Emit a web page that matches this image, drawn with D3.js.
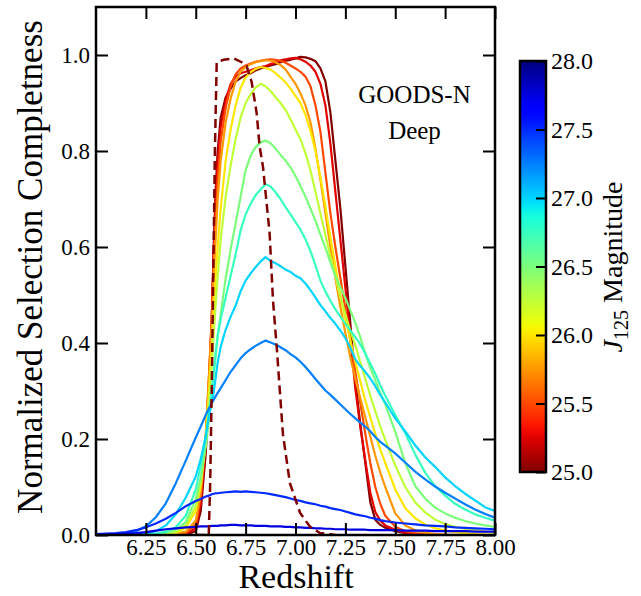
<!DOCTYPE html>
<html><head><meta charset="utf-8">
<script src="https://cdn.jsdelivr.net/npm/d3@7"></script>
<style>
body{margin:0;background:#fff}
svg{display:block}
svg text{font-family:'Liberation Serif','Times New Roman',serif !important;fill:#000}
</style>
</head><body>
<svg id="c" width="641" height="596"></svg>
<script>
// ---------------- data ----------------
const redshift = [6.00,6.05,6.10,6.15,6.20,6.25,6.30,6.35,6.40,6.45,6.50,6.525,6.55,6.565,6.58,6.59,6.60,6.61,6.625,
  6.65,6.675,6.70,6.725,6.75,6.775,6.80,6.825,6.85,6.875,6.90,6.925,6.95,6.975,7.00,7.025,7.05,7.075,7.10,7.125,7.15,
  7.175,7.20,7.225,7.25,7.275,7.30,7.325,7.35,7.375,7.40,7.425,7.45,7.50,7.55,7.60,7.65,7.70,7.75,7.80,7.85,7.90,7.95,8.00];

const magnitudes = [25.0,25.25,25.5,25.75,26.0,26.25,26.5,26.75,27.0,27.25,27.5,27.75];

const comp_25_00 = [0,0,0,0,0,0,0,0,0,0.001,0.008,0.05,0.17,0.29,0.44,0.6,0.72,0.8,0.87,
  0.912,0.93,0.945,0.952,0.958,0.962,0.968,0.972,0.975,0.978,0.981,0.985,0.988,0.99,0.993,0.996,0.995,0.992,0.987,0.972,0.945,
  0.88,0.78,0.68,0.56,0.44,0.32,0.23,0.15,0.068,0.032,0.021,0.015,0.008,0.004,0.002,0.001,0,0,0,0,0,0,0];
const comp_25_25 = [0,0,0,0,0,0,0,0,0,0.002,0.014,0.065,0.19,0.31,0.45,0.59,0.7,0.78,0.85,
  0.905,0.94,0.955,0.962,0.965,0.968,0.972,0.975,0.977,0.981,0.985,0.989,0.991,0.993,0.994,0.991,0.986,0.978,0.965,0.94,0.895,
  0.815,0.715,0.615,0.515,0.41,0.305,0.225,0.155,0.088,0.048,0.03,0.02,0.011,0.005,0.002,0.001,0,0,0,0,0,0,0];
const comp_25_50 = [0,0,0,0,0,0,0,0,0.001,0.004,0.022,0.08,0.2,0.32,0.45,0.57,0.66,0.74,0.82,
  0.89,0.935,0.96,0.972,0.978,0.982,0.986,0.988,0.99,0.991,0.99,0.988,0.984,0.978,0.972,0.965,0.955,0.935,0.895,0.84,0.755,
  0.67,0.6,0.535,0.47,0.405,0.34,0.275,0.21,0.15,0.1,0.065,0.04,0.017,0.008,0.004,0.002,0.001,0,0,0,0,0,0];
const comp_25_75 = [0,0,0,0,0,0,0,0,0.002,0.007,0.03,0.09,0.21,0.32,0.44,0.54,0.62,0.7,0.78,
  0.86,0.91,0.945,0.965,0.975,0.981,0.985,0.987,0.989,0.988,0.985,0.979,0.97,0.955,0.94,0.92,0.895,0.86,0.805,0.74,0.67,
  0.6,0.535,0.475,0.42,0.37,0.325,0.285,0.245,0.205,0.165,0.13,0.1,0.045,0.02,0.01,0.005,0.002,0.001,0,0,0,0,0];
const comp_26_00 = [0,0,0,0,0,0,0,0.001,0.004,0.015,0.05,0.105,0.2,0.29,0.39,0.47,0.54,0.6,0.68,
  0.78,0.845,0.895,0.932,0.953,0.964,0.971,0.975,0.973,0.97,0.962,0.953,0.943,0.93,0.915,0.9,0.875,0.842,0.8,0.745,0.685,
  0.62,0.56,0.5,0.45,0.405,0.36,0.32,0.28,0.245,0.21,0.178,0.15,0.095,0.056,0.035,0.022,0.014,0.009,0.006,0.004,0.002,0.001,0.001];
const comp_26_25 = [0,0,0,0,0,0,0.001,0.002,0.006,0.02,0.06,0.11,0.19,0.27,0.35,0.42,0.48,0.54,0.615,
  0.705,0.77,0.825,0.87,0.9,0.918,0.932,0.94,0.935,0.925,0.912,0.9,0.886,0.866,0.845,0.825,0.795,0.76,0.715,0.67,0.625,
  0.58,0.54,0.495,0.46,0.425,0.395,0.36,0.325,0.29,0.258,0.226,0.198,0.145,0.1,0.068,0.047,0.032,0.023,0.017,0.013,0.01,0.007,0.005];
const comp_26_50 = [0,0,0,0,0,0.001,0.002,0.004,0.011,0.027,0.075,0.12,0.185,0.235,0.29,0.335,0.375,0.415,0.46,
  0.535,0.595,0.65,0.705,0.76,0.79,0.808,0.818,0.822,0.816,0.805,0.792,0.78,0.766,0.748,0.727,0.705,0.68,0.655,0.626,0.598,
  0.568,0.54,0.516,0.494,0.468,0.442,0.412,0.378,0.348,0.322,0.296,0.272,0.215,0.15,0.102,0.076,0.057,0.045,0.036,0.029,0.024,0.02,0.017];
const comp_26_75 = [0,0,0,0,0,0.001,0.003,0.007,0.016,0.04,0.095,0.145,0.205,0.25,0.3,0.34,0.38,0.415,0.45,
  0.495,0.54,0.585,0.635,0.668,0.69,0.708,0.72,0.731,0.726,0.714,0.7,0.683,0.668,0.652,0.636,0.616,0.592,0.562,0.53,0.507,
  0.488,0.47,0.455,0.44,0.426,0.412,0.397,0.378,0.357,0.336,0.312,0.29,0.25,0.212,0.168,0.13,0.102,0.082,0.065,0.053,0.043,0.036,0.03];
const comp_27_00 = [0,0,0,0,0.001,0.003,0.008,0.02,0.043,0.078,0.122,0.158,0.205,0.245,0.275,0.298,0.328,0.36,0.392,
  0.428,0.455,0.478,0.508,0.53,0.545,0.558,0.57,0.579,0.571,0.566,0.56,0.553,0.548,0.54,0.535,0.524,0.51,0.495,0.479,0.466,
  0.452,0.44,0.426,0.41,0.39,0.366,0.352,0.34,0.326,0.31,0.292,0.276,0.243,0.216,0.187,0.162,0.142,0.12,0.102,0.086,0.072,0.058,0.05];
const comp_27_25 = [0.001,0.001,0.002,0.004,0.008,0.018,0.037,0.066,0.108,0.155,0.203,0.226,0.25,0.263,0.274,0.282,0.289,0.296,0.306,
  0.323,0.34,0.354,0.368,0.379,0.387,0.394,0.4,0.405,0.401,0.397,0.391,0.385,0.377,0.37,0.361,0.35,0.338,0.325,0.313,0.301,
  0.292,0.282,0.272,0.262,0.252,0.243,0.234,0.226,0.216,0.204,0.194,0.186,0.17,0.151,0.132,0.116,0.101,0.088,0.076,0.064,0.053,0.044,0.036];
const comp_27_50 = [0.002,0.003,0.004,0.006,0.01,0.016,0.024,0.034,0.046,0.06,0.071,0.075,0.08,0.082,0.085,0.086,0.087,0.087,0.088,
  0.089,0.09,0.091,0.09,0.091,0.09,0.089,0.088,0.087,0.085,0.083,0.081,0.079,0.076,0.073,0.071,0.068,0.066,0.064,0.061,0.059,
  0.056,0.054,0.052,0.049,0.046,0.043,0.041,0.039,0.036,0.034,0.031,0.029,0.026,0.024,0.022,0.02,0.019,0.018,0.016,0.015,0.014,0.013,0.012];
const comp_27_75 = [0.001,0.001,0.002,0.003,0.004,0.006,0.009,0.012,0.014,0.016,0.017,0.018,0.018,0.018,0.019,0.019,0.019,0.019,0.02,
  0.02,0.021,0.021,0.02,0.02,0.02,0.019,0.019,0.019,0.018,0.018,0.018,0.017,0.017,0.016,0.016,0.015,0.015,0.014,0.014,0.013,
  0.013,0.012,0.012,0.012,0.011,0.011,0.011,0.011,0.01,0.01,0.01,0.01,0.01,0.009,0.009,0.009,0.008,0.008,0.008,0.008,0.007,0.007,0.007];

const dashedZ = [6.50,6.565,6.572,6.58,6.588,6.596,6.605,6.64,6.69,6.73,6.755,6.78,6.805,6.82,6.837,6.87,6.887,6.907,6.937,6.972,7.023,7.073,7.123,7.20];
const dashedC = [0,0,0.1,0.3,0.55,0.8,0.985,0.99,0.993,0.985,0.977,0.944,0.88,0.81,0.767,0.63,0.49,0.385,0.21,0.108,0.046,0.017,0.004,0];

const xTicks = [6.25,6.50,6.75,7.00,7.25,7.50,7.75,8.00];
const yTicks = [0.0,0.2,0.4,0.6,0.8,1.0];
const cbTicks = [25.0,25.5,26.0,26.5,27.0,27.5,28.0];

const compSeries = [comp_25_00,comp_25_25,comp_25_50,comp_25_75,comp_26_00,comp_26_25,
  comp_26_50,comp_26_75,comp_27_00,comp_27_25,comp_27_50,comp_27_75];

// ---------------- colour map (jet) ----------------
const jr = d3.scaleLinear().domain([0,0.35,0.66,0.89,1]).range([0,0,1,1,0.5]).clamp(true);
const jg = d3.scaleLinear().domain([0,0.125,0.375,0.64,0.91,1]).range([0,0,1,1,0,0]).clamp(true);
const jb = d3.scaleLinear().domain([0,0.11,0.34,0.65,1]).range([0.5,1,1,0,0]).clamp(true);
const jet = t => d3.rgb(Math.round(jr(t)*255),Math.round(jg(t)*255),Math.round(jb(t)*255)).formatHex();
const magColor = m => jet((28-m)/3);

// ---------------- layout ----------------
const SERIF = "'Liberation Serif','Times New Roman',serif";
const svg = d3.select('#c');
const X0=96, X1=495, Y0=535, Y1=7;
const x = d3.scaleLinear().domain([6,8]).range([X0,X1]);
const y = d3.scaleLinear().domain([0,1.1]).range([Y0,Y1]);

svg.append('defs').append('clipPath').attr('id','clip')
  .append('rect').attr('x',X0).attr('y',Y1).attr('width',X1-X0).attr('height',Y0-Y1);

const line = d3.line().x(d=>x(d[0])).y(d=>y(d[1]));
const gLines = svg.append('g').attr('clip-path','url(#clip)');

compSeries.forEach((vals,i)=>{
  gLines.append('path')
    .datum(redshift.map((z,j)=>[z,vals[j]]))
    .attr('d',line).attr('fill','none')
    .attr('stroke',magColor(magnitudes[i]))
    .attr('stroke-width',2.2).attr('stroke-linejoin','round');
});
gLines.append('path')
  .datum(dashedZ.map((z,j)=>[z,dashedC[j]]))
  .attr('d',line).attr('fill','none')
  .attr('stroke','#800000').attr('stroke-width',2.5)
  .attr('stroke-dasharray','9,5');

// axes
const fmt2 = d3.format('.2f'), fmt1 = d3.format('.1f');
function styleAxis(g,fs){
  g.attr('font-family',null).attr('font-size',null);
  g.select('.domain').remove();
  g.selectAll('.tick line').attr('stroke','#000').attr('stroke-width',2);
  g.selectAll('.tick text').style('font-size',fs+'px').style('font-family',SERIF).attr('fill','#000');
}
svg.append('g').attr('transform',`translate(0,${Y0})`)
  .call(d3.axisBottom(x).tickValues(xTicks).tickSize(-12).tickPadding(4).tickFormat(fmt2))
  .call(g=>styleAxis(g,23));
svg.append('g').attr('transform',`translate(0,${Y1})`)
  .call(d3.axisTop(x).tickValues(xTicks).tickSize(-12).tickFormat(''))
  .call(g=>styleAxis(g,23));
svg.append('g').attr('transform',`translate(${X0},0)`)
  .call(d3.axisLeft(y).tickValues(yTicks).tickSize(-12).tickPadding(6).tickFormat(fmt1))
  .call(g=>styleAxis(g,23));
svg.append('g').attr('transform',`translate(${X1},0)`)
  .call(d3.axisRight(y).tickValues(yTicks).tickSize(-12).tickFormat(''))
  .call(g=>styleAxis(g,23));

svg.append('rect').attr('x',X0).attr('y',Y1).attr('width',X1-X0).attr('height',Y0-Y1)
  .attr('fill','none').attr('stroke','#000').attr('stroke-width',2.5);

// titles
svg.append('text').attr('x',296).attr('y',588).attr('text-anchor','middle')
  .style('font-size','34px').text('Redshift');
svg.append('text').attr('transform','translate(42,267) rotate(-90)').attr('text-anchor','middle')
  .style('font-size','35px').text('Normalized Selection Completness');

// annotation
svg.append('text').attr('x',414.5).attr('y',103).attr('text-anchor','middle').style('font-size','25px').text('GOODS-N');
svg.append('text').attr('x',414.5).attr('y',139).attr('text-anchor','middle').style('font-size','25px').text('Deep');

// colour bar
const CBX=520, CBW=26, CBT=61, CBB=472;
const cb = d3.scaleLinear().domain([25,28]).range([CBB,CBT]);
const grad = svg.select('defs').append('linearGradient').attr('id','cbg')
  .attr('x1',0).attr('y1',1).attr('x2',0).attr('y2',0);
d3.range(0,61).forEach(i=>{
  const m = 25 + 3*i/60;
  grad.append('stop').attr('offset',(i/60)).attr('stop-color',magColor(m));
});
svg.append('rect').attr('x',CBX).attr('y',CBT).attr('width',CBW).attr('height',CBB-CBT)
  .attr('fill','url(#cbg)').attr('stroke','#000').attr('stroke-width',2.5);
svg.append('g').attr('transform',`translate(${CBX+CBW},0)`)
  .call(d3.axisRight(cb).tickValues(cbTicks).tickSize(-10).tickPadding(5).tickFormat(fmt1))
  .call(g=>styleAxis(g,24));

const cbl = svg.append('text').attr('transform','translate(622,267) rotate(-90)')
  .attr('text-anchor','middle').style('font-size','28px');
cbl.append('tspan').style('font-style','italic').text('J');
cbl.append('tspan').style('font-size','20px').attr('dy',6).text('125');
cbl.append('tspan').attr('dy',-6).text(' Magnitude');
</script>
</body></html>
